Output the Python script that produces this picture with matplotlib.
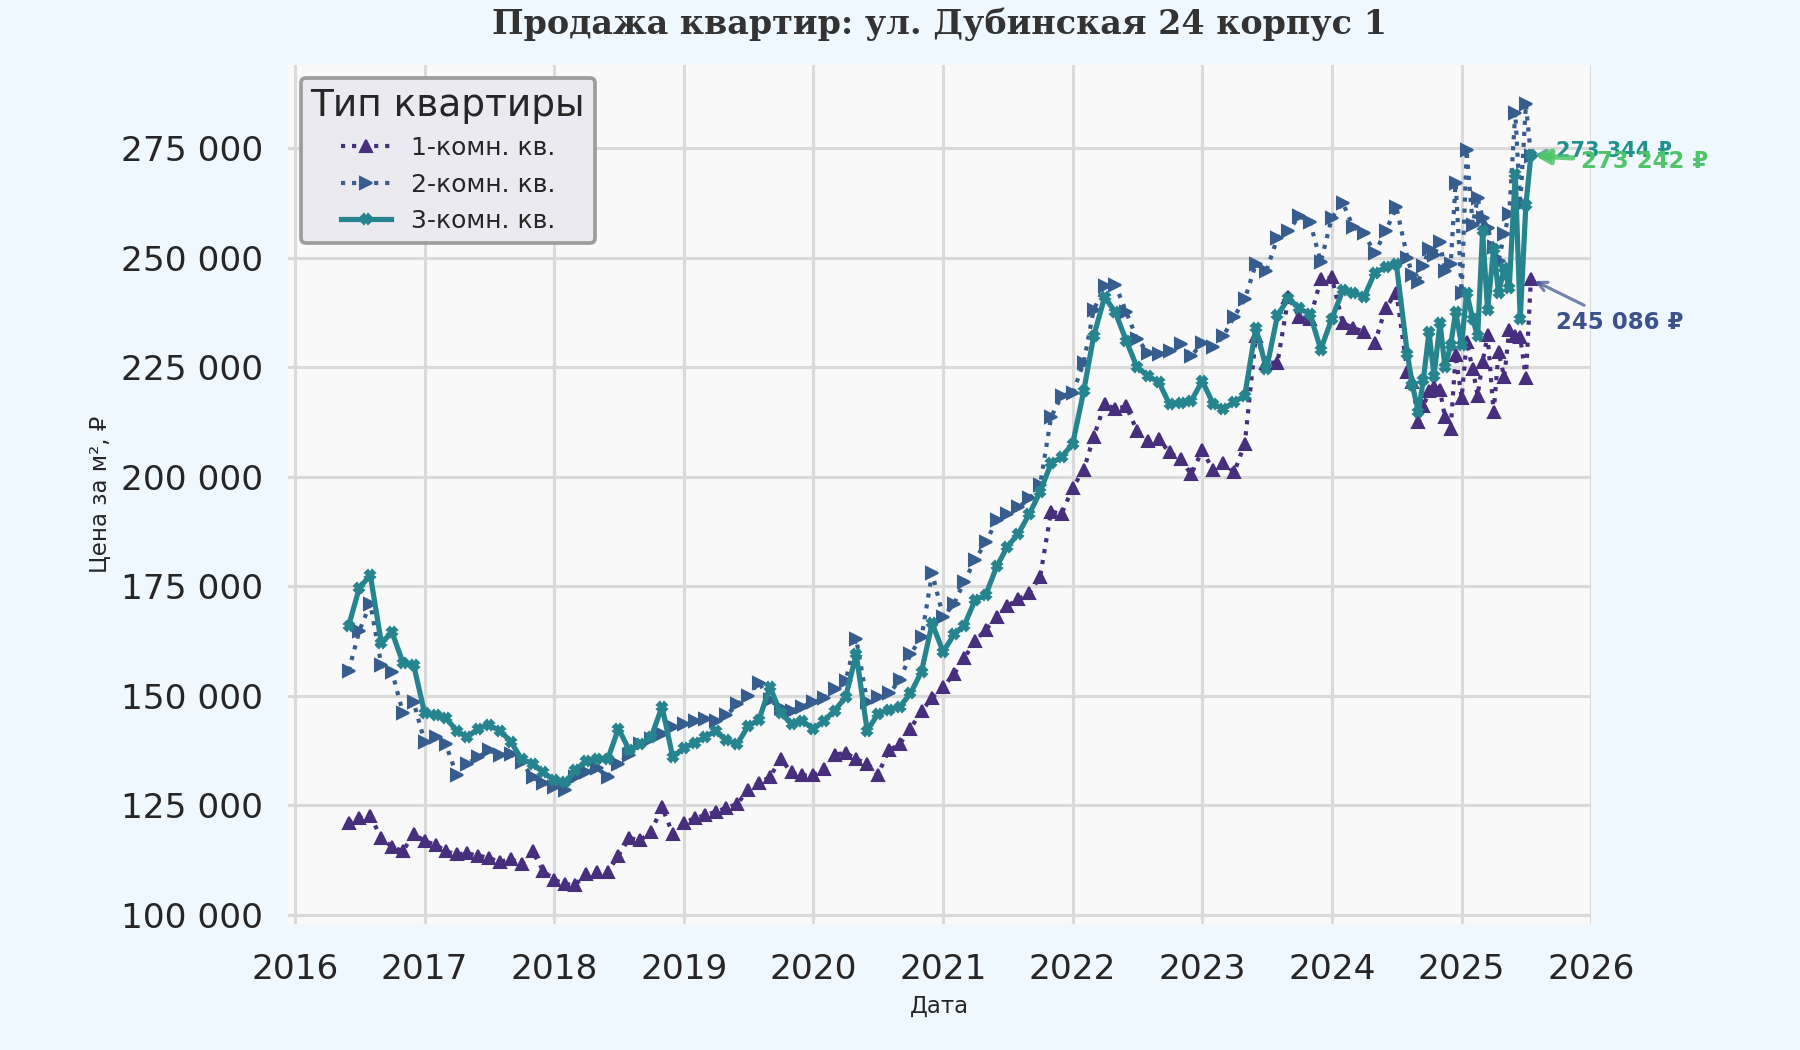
import matplotlib
matplotlib.use("Agg")
import matplotlib.pyplot as plt
import matplotlib.dates as mdates
import matplotlib.ticker as mticker
import numpy as np
import pandas as pd

# dates: monthly up to July 2024, then twice a month
monthly = pd.date_range("2016-06-01", "2024-07-01", freq="MS")
semi = pd.date_range("2024-08-01", "2025-07-15", freq="SMS")
dates = monthly.append(semi)

# price per m2, thousands of rubles
room1 = [121.0, 122.0, 122.5, 117.5, 115.5, 114.5, 118.5,
         116.8, 116.0, 114.5, 113.8, 114.0, 113.5, 113.0, 112.0, 112.8, 111.5, 114.5, 110.0,
         108.0, 107.0, 106.8, 109.3, 109.8, 109.8, 113.5, 117.5, 117.0, 119.0, 124.5, 118.5,
         121.0, 122.0, 122.7, 123.5, 124.4, 125.3, 128.5, 130.0, 131.5, 135.5, 132.5, 131.8,
         131.8, 133.3, 136.5, 137.0, 135.5, 134.5, 132.0, 137.5, 139.0, 142.5, 146.5, 149.5,
         152.0, 155.0, 158.5, 162.5, 165.0, 168.0, 170.5, 172.0, 173.5, 177.0, 192.0, 191.5,
         197.5, 201.5, 209.0, 216.5, 215.5, 216.0, 210.5, 208.2, 208.5, 205.5, 204.0, 200.5,
         206.0, 201.5, 203.0, 201.0, 207.5, 232.0, 226.0, 226.0, 241.0, 236.5, 236.0, 245.0,
         245.5, 235.0, 234.0, 233.0, 230.5, 238.5, 242.0,
         223.9, 221.6, 212.4, 216.0, 219.5, 220.5, 219.7, 213.5, 210.9, 227.7, 218.0, 230.7,
         224.6, 218.5, 226.2, 232.3, 214.7, 228.4, 222.7, 233.5, 232.0, 231.8, 222.5, 245.086]

room2 = [155.7, 164.8, 171.0, 157.0, 155.5, 146.0, 148.5,
         139.5, 140.5, 139.0, 132.0, 134.5, 136.0, 137.5, 136.5, 136.7, 134.8, 131.4, 130.0,
         129.2, 128.5, 131.5, 132.5, 133.5, 131.5, 134.5, 136.5, 139.0, 140.0, 141.3, 142.8,
         143.6, 144.2, 144.7, 144.3, 145.5, 148.0, 150.0, 153.0, 148.9, 147.3, 146.6, 147.5,
         148.5, 149.5, 151.5, 153.4, 163.0, 148.5, 149.6, 150.5, 153.5, 159.5, 163.3, 178.0,
         168.0, 171.0, 176.0, 181.0, 185.0, 190.0, 191.5, 193.0, 195.0, 198.0, 213.5, 218.5,
         219.0, 226.0, 238.0, 243.5, 243.8, 237.5, 231.5, 228.3, 227.9, 228.6, 230.2, 227.5,
         230.5, 229.5, 232.0, 236.5, 240.5, 248.5, 247.0, 254.5, 256.0, 259.5, 258.0, 249.0,
         259.0, 262.5, 257.0, 255.5, 251.0, 256.0, 261.5,
         250.0, 246.0, 244.5, 248.0, 252.0, 250.5, 253.5, 247.0, 248.5, 267.0, 242.0, 274.5,
         257.5, 263.5, 259.0, 256.8, 252.3, 249.2, 255.3, 260.0, 283.0, 262.0, 285.0, 273.242]

room3 = [166.0, 174.6, 177.5, 162.0, 164.5, 157.5, 157.0,
         146.0, 145.5, 145.0, 142.0, 140.5, 142.5, 143.3, 142.0, 139.5, 135.5, 134.5, 132.5,
         130.7, 130.2, 133.0, 135.0, 135.5, 135.5, 142.5, 137.5, 139.0, 140.5, 147.5, 136.0,
         138.0, 139.3, 140.5, 142.0, 139.8, 139.0, 143.0, 144.5, 152.0, 146.0, 143.6, 144.3,
         142.4, 144.3, 146.6, 149.6, 159.5, 142.0, 145.8, 146.8, 147.5, 150.5, 155.5, 166.5,
         160.0, 164.0, 166.0, 171.8, 173.0, 179.5, 184.0, 187.0, 191.5, 196.5, 203.0, 204.5,
         207.5, 219.5, 232.0, 241.0, 237.5, 231.0, 225.0, 223.0, 221.5, 216.5, 216.8, 217.3,
         221.8, 216.6, 215.4, 217.0, 218.5, 234.0, 224.5, 236.8, 240.7, 238.4, 237.0, 229.0,
         236.0, 242.5, 242.0, 241.0, 246.5, 247.8, 248.5,
         228.0, 221.0, 214.7, 222.0, 233.0, 223.0, 235.0, 225.0, 230.0, 237.6, 230.0, 242.0,
         236.0, 232.0, 256.0, 238.0, 252.0, 242.0, 247.6, 243.0, 269.0, 236.0, 262.0, 273.344]

labels = ["1-комн. кв.", "2-комн. кв.", "3-комн. кв."]
colors = ["#472f7d", "#365d8d", "#26848e"]

fig = plt.figure(figsize=(12, 7), dpi=150, facecolor="#f0f8ff")
ax = fig.add_axes([0.16, 0.12, 0.724, 0.818])
ax.set_facecolor("#f9f9f9")

y1 = np.array(room1) * 1000
y2 = np.array(room2) * 1000
y3 = np.array(room3) * 1000

ax.plot(dates, y1, ls=":", lw=2, marker="^", ms=5.5, color=colors[0], label=labels[0])
ax.plot(dates, y2, ls=":", lw=2, marker=">", ms=5.5, color=colors[1], label=labels[1])
ax.plot(dates, y3, ls="-", lw=2.5, marker="X", ms=4.5, color=colors[2], label=labels[2])

ax.set_xlim(pd.Timestamp("2015-12-13"), pd.Timestamp("2026-01-01"))

ax.grid(True, color="#dadada", lw=1.5)
ax.set_axisbelow(True)
for s in ax.spines.values():
    s.set_visible(False)

ax.xaxis.set_major_locator(mdates.YearLocator())
ax.xaxis.set_major_formatter(mdates.DateFormatter("%Y"))
ax.yaxis.set_major_locator(mticker.MultipleLocator(25000))
ax.yaxis.set_major_formatter(mticker.FuncFormatter(lambda v, p: f"{int(v):,}".replace(",", " ")))
ax.tick_params(axis="both", labelsize=16.5, length=0, labelcolor="#262626")
ax.tick_params(axis="x", pad=14)
ax.tick_params(axis="y", pad=12)

ax.set_xlabel("Дата", fontsize=11, color="#262626")
ax.set_ylabel("Цена за м², ₽", fontsize=11, color="#262626")
ax.set_title("Продажа квартир: ул. Дубинская 24 корпус 1", fontsize=16, fontweight="bold",
             family="DejaVu Serif", color="#333333", pad=15)

leg = ax.legend(title="Тип квартиры", loc="upper left", fontsize=12, title_fontsize=18,
                facecolor="#eaeaf0", edgecolor="#999999", framealpha=0.95, fancybox=True)
leg.get_frame().set_linewidth(1.8)
leg.get_title().set_color("#262626")
for t in leg.get_texts():
    t.set_color("#262626")

# last value labels
ax.annotate("273 344 ₽", xy=(dates[-1], y3[-1]), xytext=(12, 2), textcoords="offset points",
            ha="left", va="center", fontsize=10, fontweight="bold", color="#21918c",
            arrowprops=dict(arrowstyle="->", color="#21918c", lw=1.5, alpha=0.7))
ax.annotate("273 242 ₽", xy=(dates[-1], y2[-1]), xytext=(24, -3), textcoords="offset points",
            ha="left", va="center", fontsize=11, fontweight="bold", color="#4fc46a",
            arrowprops=dict(arrowstyle="-|>", color="#4fc46a", lw=2.5, alpha=0.85,
                            mutation_scale=14))
ax.annotate("245 086 ₽", xy=(dates[-1], y1[-1]), xytext=(12, -21), textcoords="offset points",
            ha="left", va="center", fontsize=11, fontweight="bold", color="#3b528b",
            arrowprops=dict(arrowstyle="->", color="#3b528b", lw=1.5, alpha=0.7))

fig.savefig("out.png", dpi=150, facecolor=fig.get_facecolor())
